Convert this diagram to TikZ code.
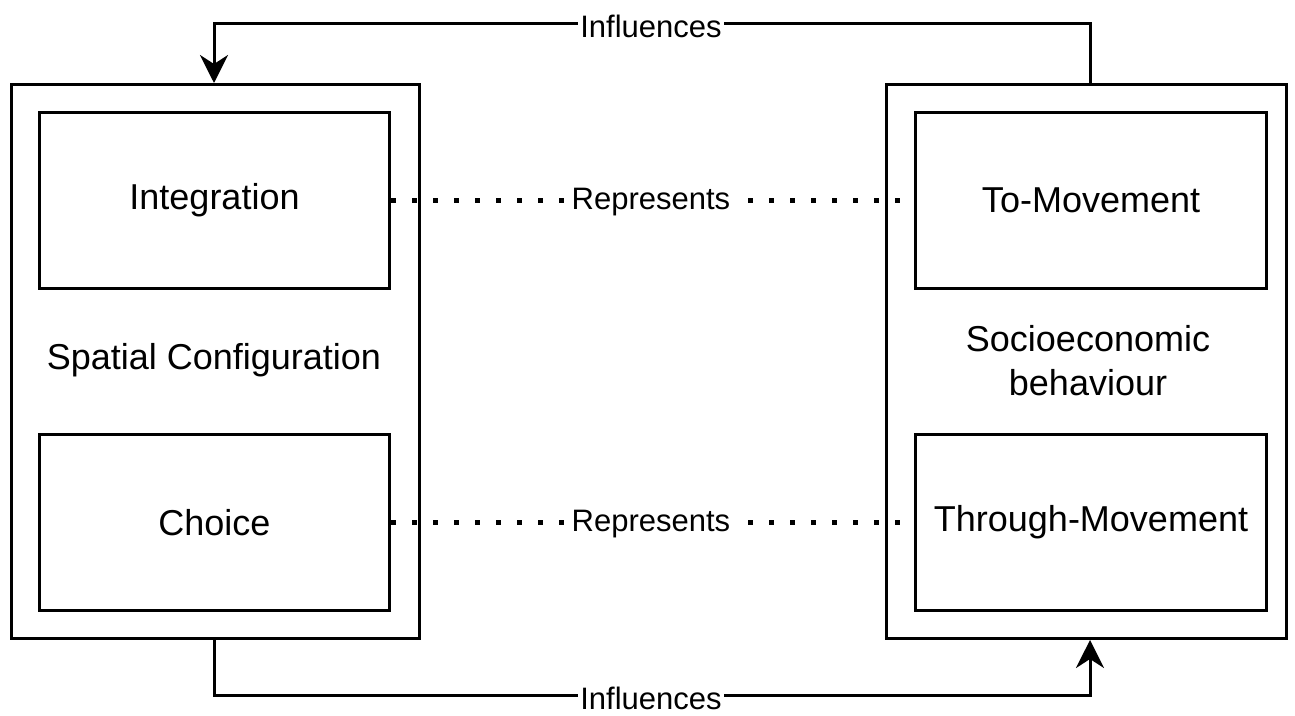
\documentclass[tikz,border=0pt]{standalone}
\usepackage{fontspec}
\setmainfont{Liberation Sans}
\usetikzlibrary{arrows.meta}
\begin{document}
\begin{tikzpicture}[x=1pt,y=-1pt,
  box/.style={draw,line width=3pt,inner sep=0pt,anchor=north west},
  lbl/.style={fill=white,inner sep=2pt,yshift=-3pt,font=\fontsize{31}{36}\selectfont},
  conn/.style={line width=3pt},
  dotline/.style={line width=5pt,dash pattern=on 5pt off 16pt},
  arr/.style={-{Stealth[length=28pt,width=28pt,inset=9pt]}}]
\useasboundingbox (0,0) rectangle (1295,715);
\node[box,minimum width=408pt,minimum height=554pt] (L) at (10,83) {};
\node[box,minimum width=400pt,minimum height=554pt] (R) at (885,83) {};
\node[box,minimum width=350pt,minimum height=176pt] (I) at (38,111) {};
\node[box,minimum width=350pt,minimum height=176pt] (C) at (38,433) {};
\node[box,minimum width=351pt,minimum height=176pt] (T) at (914,111) {};
\node[box,minimum width=351pt,minimum height=176pt] (TM) at (914,433) {};
\begin{scope}[every node/.style={font=\fontsize{36}{42}\selectfont}]
\node at (I.center) {Integration};
\node at (C.center) {Choice};
\node at (T.center) {To-Movement};
\node at (TM.center) {Through-Movement};
\node at (214,360) {Spatial Configuration};
\node[align=center] (S) at (1088,361) {Socioeconomic\\[2pt]behaviour};
\end{scope}
\coordinate (ttop) at (1090,23);
\coordinate (tl) at (214,23);
\coordinate (bb) at (214,695);
\coordinate (br) at (1090,695);
\draw[conn,arr] (R.north -| ttop) -- (ttop) -- (tl) -- (L.north -| tl);
\draw[conn,arr] (L.south -| bb) -- (bb) -- (br) -- (R.south -| br);
\node[lbl] at (651,23) {Influences};
\node[lbl] at (651,695) {Influences};
\draw[dotline] (I.east) -- (T.west);
\draw[dotline] (C.east) -- (TM.west);
\node[lbl,inner xsep=4pt] at (651,199) {Represents};
\node[lbl,inner xsep=4pt] at (651,521) {Represents};
\end{tikzpicture}
\end{document}
